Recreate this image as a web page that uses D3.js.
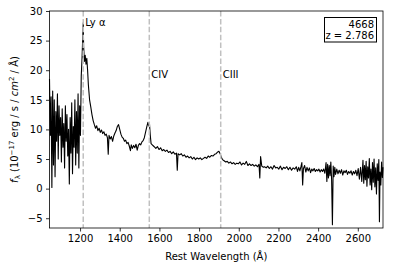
<!DOCTYPE html>
<html>
<head>
<meta charset="utf-8">
<script src="https://cdn.jsdelivr.net/npm/d3@7"></script>
<style>
  body { margin: 0; background: #fff; }
  svg { display: block; font-family: "DejaVu Sans", sans-serif; }
  .axis text { font-size: 10px; fill: #000; font-family: "DejaVu Sans", sans-serif; }
  .axis path, .axis line { stroke: #000; stroke-width: 0.8; }
</style>
</head>
<body>
<svg id="chart" width="394" height="268"></svg>
<script>
// rest wavelength (A) and flux (1e-17 erg/s/cm^2/A)
var wave = [
  1046,1050,1054,1058,1062,1066,1070,1074,1078,1082,1086,1090,1094,1098,1102,1106,1110,1114,1118,1122,
  1126,1130,1134,1138,1142,1146,1150,1154,1158,1162,1166,1170,1174,1178,1182,1186,1190,1194,1198,1202,
  1206,1210,1214,1216,1218,1222,1226,1230,1234,1238,1242,1248,1254,1260,1266,1272,1278,1284,1290,1296,
  1302,1308,1314,1320,1326,1332,1338,1342,1346,1352,1358,1364,1370,1376,1382,1388,1394,1400,1406,1412,
  1418,1424,1430,1436,1442,1448,1454,1458,1464,1470,1476,1482,1488,1494,1500,1506,1512,1518,1524,1530,
  1536,1542,1546,1550,1554,1558,1564,1570,1576,1582,1590,1598,1606,1614,1622,1630,1638,1646,1654,1662,
  1670,1678,1686,1690,1694,1702,1710,1718,1726,1734,1742,1750,1758,1766,1774,1782,1790,1798,1806,1814,
  1822,1830,1838,1846,1854,1862,1870,1878,1886,1894,1900,1906,1912,1918,1926,1934,1942,1950,1958,1966,
  1974,1982,1990,1998,2006,2014,2022,2030,2038,2046,2054,2062,2070,2078,2086,2094,2102,2106,2110,2116,
  2124,2130,2138,2146,2154,2162,2170,2178,2186,2194,2202,2210,2218,2226,2234,2242,2250,2258,2266,2274,
  2282,2290,2296,2302,2308,2314,2318,2322,2326,2332,2338,2344,2350,2356,2362,2368,2374,2380,2386,2392,
  2398,2404,2410,2416,2422,2428,2434,2440,2444,2448,2452,2456,2460,2464,2468,2472,2476,2480,2484,2488,
  2494,2500,2506,2512,2518,2524,2530,2536,2542,2548,2554,2560,2566,2572,2578,2584,2590,2596,2602,2608,
  2614,2620,2626,2630,2634,2638,2642,2646,2650,2654,2658,2662,2666,2670,2674,2678,2682,2686,2690,2694,
  2698,2702,2706,2709,2712,2716,2720,2724,2727
];
var flux = [
  18.5,9,15.5,0.2,16.5,4,15,2,13,8,16,5,14,9,12,4.5,13.5,7,11,3.5,
  14,8,12.5,5.5,10,0.8,12,6,14.5,2.5,10.5,7,15,4,13,6,16,3.5,14,9,
  19,22,26,28,24,21.5,22.5,21,22,20,17.5,15,13.8,12.5,11.5,10.8,10.2,10.6,9.8,10.2,
  9.5,9.9,9.3,9.6,9.0,9.2,8.6,5.8,9.0,8.4,8.8,8.0,8.9,9.4,9.8,10.5,10.8,10.0,9.2,8.7,
  8.5,8.0,8.2,7.6,7.8,7.2,6.4,7.4,6.8,7.3,6.9,7.5,6.5,7.3,7.6,7.4,7.9,8.1,8.6,9.5,
  10.4,11.2,10.6,10.9,9.0,7.6,7.4,7.2,7.0,6.8,7.1,6.6,6.9,6.4,6.6,6.3,6.5,6.1,6.3,5.9,
  6.2,5.8,6.0,3.1,5.9,5.7,5.9,5.5,5.7,5.3,5.5,5.2,5.4,5.0,5.3,4.9,5.2,5.0,5.2,4.9,
  5.1,5.3,5.1,5.5,5.3,5.6,5.5,5.8,5.9,6.2,6.3,5.9,5.3,4.9,4.7,4.5,4.6,4.3,4.5,4.2,
  4.4,4.1,4.3,4.2,4.5,4.0,4.3,4.1,4.6,3.9,4.2,3.9,4.1,3.8,4.0,3.7,4.1,1.8,5.4,3.8,
  3.6,3.7,3.5,3.8,3.4,3.7,3.3,3.9,3.5,3.6,3.3,3.8,3.2,3.6,3.4,3.7,3.2,3.6,3.1,3.5,
  3.3,3.7,2.9,3.6,3.0,3.8,4.4,0.6,3.4,3.9,2.8,3.6,3.0,3.5,2.7,3.3,3.0,3.4,2.9,3.2,
  3.0,3.3,2.8,3.2,2.9,3.3,2.6,4.4,1.2,4.1,1.8,3.9,2.2,4.5,1.5,-6.1,3.8,2.0,3.6,2.4,
  3.3,2.5,3.1,2.6,3.2,2.3,3.0,2.7,3.1,2.4,2.9,2.6,3.0,2.3,2.9,2.5,3.1,2.2,3.4,1.6,
  3.6,1.2,4.8,0.9,3.9,1.5,4.6,0.4,3.7,1.8,5.1,0.6,3.3,-0.2,4.4,1.1,5.0,0.3,3.5,-0.9,
  4.2,1.4,4.9,-5.6,2.8,0.6,4.5,1.9,3.6
];

// emission lines marked on the plot
var lineNames = ["Ly \u03b1", "CIV", "CIII"];
var lineWaves = [1216, 1549, 1909];
var lineLabelY = [27.4, 18.7, 18.7];

var xTicks = [1200, 1400, 1600, 1800, 2000, 2200, 2400, 2600];
var yTicks = [-5, 0, 5, 10, 15, 20, 25, 30];

var objName = "4668";
var objZ = "z = 2.786";

var svg = d3.select('#chart');
var pl = 49.5, pr = 383, pt = 11, pb = 228;

var x = d3.scaleLinear().domain([1046, 2727]).range([pl, pr]);
var y = d3.scaleLinear().domain([-6.65, 30]).range([pb, pt]);

var pts = wave.map(function(w, i) { return [w, flux[i]]; });

var spec = d3.line()
  .x(function(d) { return x(d[0]); })
  .y(function(d) { return y(d[1]); });

svg.append('path')
  .datum(pts)
  .attr('d', spec)
  .attr('fill', 'none')
  .attr('stroke', '#000')
  .attr('stroke-width', 1.1)
  .attr('stroke-linejoin', 'round');

// dashed markers on top of the spectrum
svg.selectAll('.mark')
  .data(lineWaves)
  .enter()
  .append('line')
  .attr('class', 'mark')
  .attr('x1', function(d) { return x(d); })
  .attr('x2', function(d) { return x(d); })
  .attr('y1', pt)
  .attr('y2', pb)
  .attr('stroke', '#c0c0c0')
  .attr('stroke-width', 1.5)
  .attr('stroke-dasharray', '5.5,2.4');

svg.selectAll('.lbl')
  .data(lineWaves)
  .enter()
  .append('text')
  .attr('class', 'lbl')
  .attr('x', function(d) { return x(d) + 2; })
  .attr('y', function(d, i) { return y(lineLabelY[i]); })
  .attr('font-size', 10)
  .text(function(d, i) { return lineNames[i]; });

// axes
svg.append('g')
  .attr('class', 'axis')
  .attr('transform', 'translate(0,' + pb + ')')
  .call(d3.axisBottom(x).tickValues(xTicks).tickSize(3.5).tickPadding(3.5).tickFormat(d3.format('d')));

svg.append('g')
  .attr('class', 'axis')
  .attr('transform', 'translate(' + pl + ',0)')
  .call(d3.axisLeft(y).tickValues(yTicks).tickSize(3.5).tickPadding(3.5));

svg.selectAll('.axis .domain').remove();

// frame
svg.append('rect')
  .attr('x', pl).attr('y', pt)
  .attr('width', pr - pl).attr('height', pb - pt)
  .attr('fill', 'none')
  .attr('stroke', '#000')
  .attr('stroke-width', 0.8);

// labels
svg.append('text')
  .attr('x', (pl + pr) / 2)
  .attr('y', 260)
  .attr('text-anchor', 'middle')
  .attr('font-size', 10)
  .text('Rest Wavelength (\u00c5)');

var yl = svg.append('text')
  .attr('transform', 'translate(17.5,' + ((pt + pb) / 2) + ') rotate(-90)')
  .attr('text-anchor', 'middle')
  .attr('font-size', 10);
yl.append('tspan').attr('font-style', 'italic').text('f');
yl.append('tspan').attr('font-size', 7).attr('dy', 2).text('\u03bb');
yl.append('tspan').attr('dy', -2).text(' (10');
yl.append('tspan').attr('font-size', 7).attr('dy', -4).text('\u221217');
yl.append('tspan').attr('dy', 4).text(' erg / s / ');
yl.append('tspan').attr('font-style', 'italic').text('cm');
yl.append('tspan').attr('font-size', 7).attr('dy', -4).text('2');
yl.append('tspan').attr('dy', 4).text(' / \u00c5)');

// info box
svg.append('rect')
  .attr('x', 324.5).attr('y', 17.5)
  .attr('width', 52).attr('height', 24.5)
  .attr('fill', '#fff')
  .attr('stroke', '#000')
  .attr('stroke-width', 1);

svg.append('text')
  .attr('x', 374).attr('y', 27.5)
  .attr('text-anchor', 'end')
  .attr('font-size', 10)
  .text(objName);

svg.append('text')
  .attr('x', 374).attr('y', 39)
  .attr('text-anchor', 'end')
  .attr('font-size', 10)
  .text(objZ);
</script>
</body>
</html>
